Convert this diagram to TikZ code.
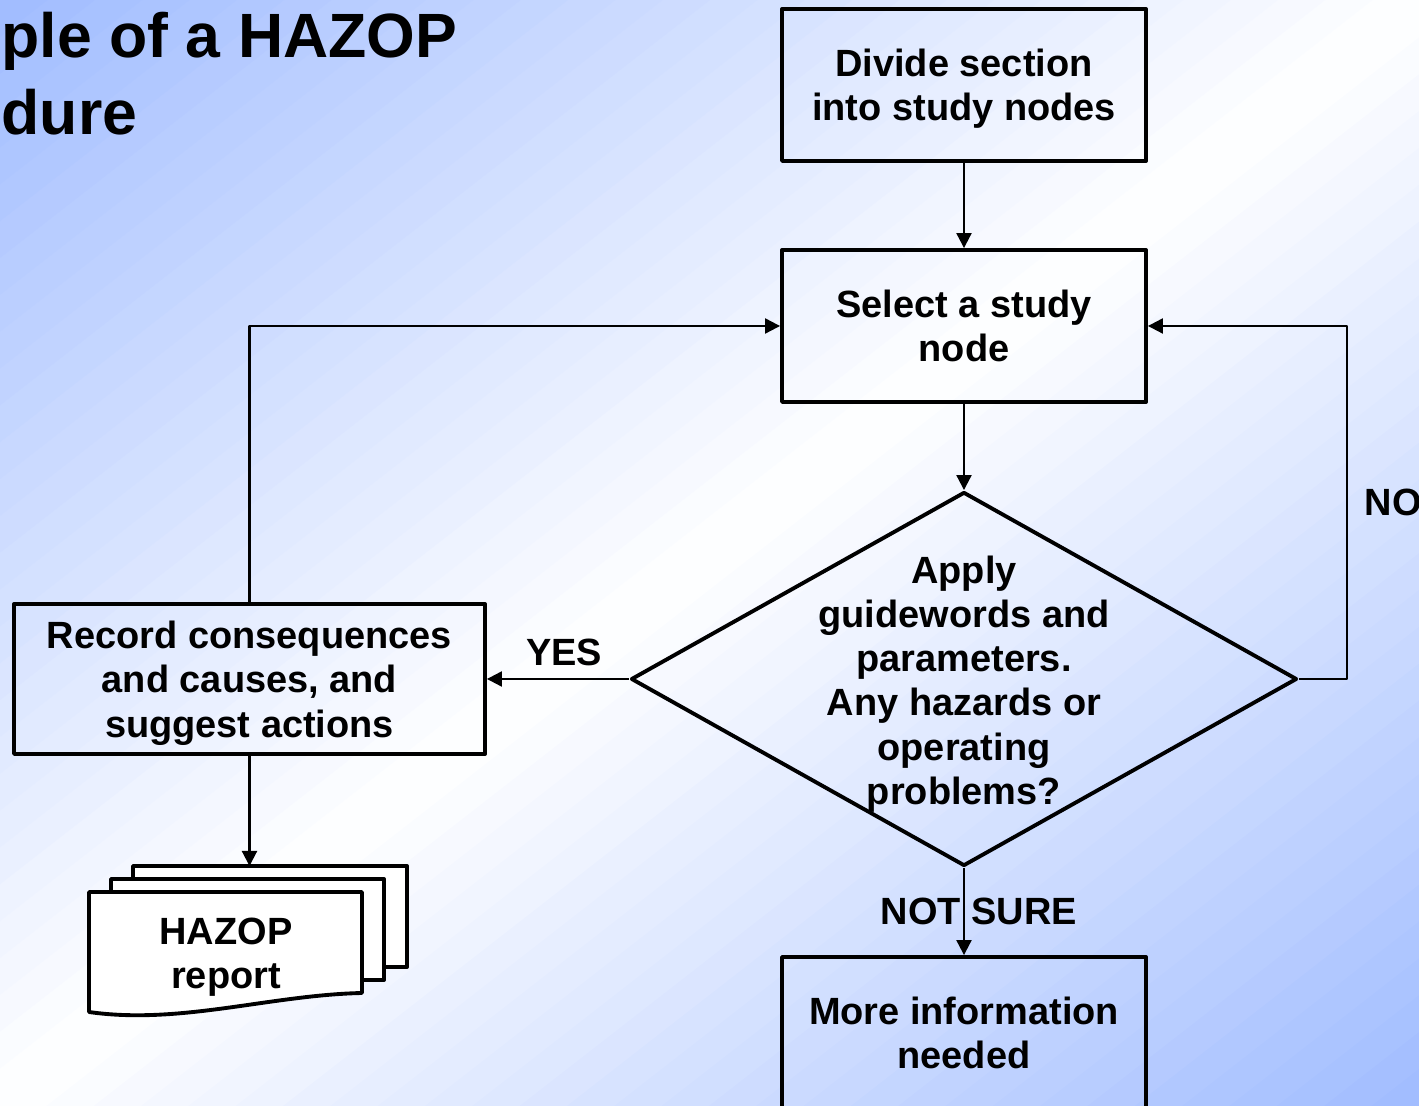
\documentclass[tikz,border=0pt]{standalone}
\usepackage{fontspec}
\setmainfont{Liberation Sans}
\usetikzlibrary{shapes.geometric,arrows.meta,positioning}
\definecolor{slideblue}{RGB}{160,188,255}

\begin{document}
	\begin{tikzpicture}[
		font=\bfseries\fontsize{10.8}{12.6}\selectfont, 
		line join=round, 
		>={Triangle[length=0.15cm,width=0.15cm]}, 
		process/.style={draw, line width=1.1pt, minimum width=3.64cm, 
			minimum height=1.52cm, align=center, inner sep=0pt, text depth=0pt}, 
		decision/.style={draw, diamond, line width=1.1pt, minimum width=6.66cm, 
			minimum height=3.74cm, inner sep=0pt}, 
		flow/.style={->, line width=0.6pt}, 
		sheet/.style={draw, fill=white, line width=1.1pt}, 
		title/.style={anchor=base west, inner sep=0pt, 
			font=\bfseries\fontsize{17.8}{21}\selectfont}
		]
		
		\clip (0,0) rectangle (14.19,-11.06);
		
		\begin{scope}[rotate around={37.9:(7.095,-5.53)}, shift={(7.095,-5.53)}]
			\foreach \i in {0,1,...,59} {
				\pgfmathsetmacro\mix{abs(\i-29.5)/30*100}
				\fill[slideblue!\mix!white] 
				(-12,-8.72+\i*0.2907) rectangle (12,-8.72+\i*0.2907+0.3);
			}
		\end{scope}
		
		\node[title] (title1) at (0.01,-0.58) {ple of a HAZOP};
		\node[title] (title2) at (0.01,-1.35) {dure};
		
		\node[process] (divide) at (9.64,-0.85) {Divide section\\into study nodes};
		\node[process] (select) at (9.64,-3.26) {Select a study\\node};
		\node[decision, label={[align=center, yshift=-0.05cm]center:{Apply\\
				guidewords and\\parameters.\\Any hazards or\\operating\\problems?}}] 
		(check) at (9.64,-6.79) {};
		\node[process, minimum width=4.71cm, minimum height=1.50cm] 
		(record) at (2.495,-6.79) {Record consequences\\and causes, and\\suggest actions};
		\node[process] (moreinfo) at (9.64,-10.33) {More information\\needed};
		
		\draw[sheet] (1.33,-8.66) rectangle (4.07,-9.67);
		\draw[sheet] (1.11,-8.79) rectangle (3.84,-9.80);
		\draw[sheet] (0.89,-8.92) -- (3.62,-8.92) -- (3.62,-9.93) 
		.. controls (2.7,-9.95) and (1.8,-10.25) .. (0.89,-10.12) -- cycle;
		\node[align=center] (report) at (2.26,-9.57) {HAZOP\\report};
		\coordinate (reporttop) at (2.495,-8.66);
		
		\draw[flow] (divide) -- (select);
		\draw[flow] (select) -- (check);
		\draw[flow] (check.west) -- node[above=0.12cm, xshift=0.06cm, inner sep=0pt] 
		(yes) {YES} (record.east);
		\draw[flow] (check.south) -- node[xshift=0.15cm] (notsure) {NOT SURE} 
		(moreinfo.north);
		\draw[flow] (check.east) -- ++(0.48,0) |- node[pos=0.25, right=0.17cm, 
		inner sep=0pt] (no) {NO} (select.east);
		\draw[flow] (record.north) |- (select.west);
		\draw[flow] (record.south) -- (reporttop);
		
	\end{tikzpicture}
\end{document}
